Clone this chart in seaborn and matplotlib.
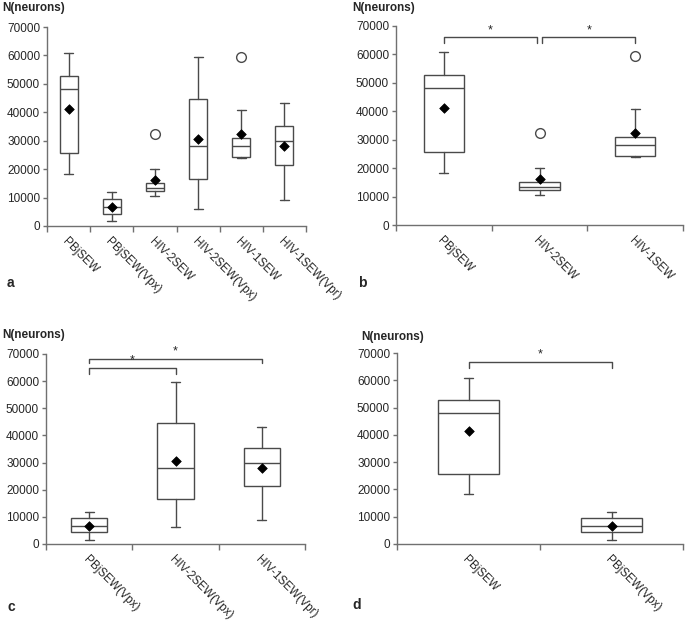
import matplotlib
matplotlib.use("Agg")
import matplotlib.pyplot as plt
import seaborn as sns
import pandas as pd

sns.set_theme(style="white")
plt.rcParams['font.family'] = ['Liberation Sans', 'DejaVu Sans']

# ---- data ----
groups = ["PBjSEW", "PBjSEW(Vpx)", "HIV-2SEW", "HIV-2SEW(Vpx)", "HIV-1SEW", "HIV-1SEW(Vpr)"]
whisker_low = [18300, 1600, 10600, 6100, 24000, 9000]
q1 = [25700, 4300, 12300, 16400, 24300, 21400]
median = [48100, 6700, 13300, 28000, 28000, 30000]
q3 = [52800, 9400, 15300, 44700, 31000, 35200]
whisker_high = [60800, 11900, 20000, 59600, 40900, 43200]
means = [41300, 6700, 16100, 30600, 32400, 28000]
outliers = [[], [], [32300], [], [59500], []]

panel_a = groups
panel_b = ["PBjSEW", "HIV-2SEW", "HIV-1SEW"]
panel_c = ["PBjSEW(Vpx)", "HIV-2SEW(Vpx)", "HIV-1SEW(Vpr)"]
panel_d = ["PBjSEW", "PBjSEW(Vpx)"]

# significance brackets: (start index, end index, bar level, drop level)
sig_b = [(0, 0.97, 66000, 63900), (1.03, 2, 66000, 63900)]
sig_c = [(0, 2, 68300, 66600), (0, 1, 65000, 62800)]
sig_d = [(0, 1, 66800, 64400)]

yticks = [0, 10000, 20000, 30000, 40000, 50000, 60000, 70000]

W, H = 685, 624
fig = plt.figure(figsize=(W / 100, H / 100), dpi=100)

def px_axes(left, right, top, bottom):
    return fig.add_axes([left / W, (H - bottom) / H, (right - left) / W, (bottom - top) / H])

box_col = "#4a4a4a"
axis_col = "#707070"
txt_col = "#262626"
fs = 8.5

def draw_panel(ax, names, sigs, letter, ylab_xy, letter_xy):
    idx = [groups.index(n) for n in names]
    stats = []
    for i in idx:
        stats.append(dict(med=median[i], q1=q1[i], q3=q3[i], whislo=whisker_low[i],
                          whishi=whisker_high[i], fliers=outliers[i], label=groups[i]))
    n = len(names)
    ax_w_px = ax.get_position().width * W
    cat_px = ax_w_px / n
    cap = 9.0 / cat_px
    ax.bxp(stats, positions=list(range(n)), widths=0.42, capwidths=cap, patch_artist=True,
           boxprops=dict(facecolor="white", edgecolor=box_col, linewidth=1.0),
           medianprops=dict(color=box_col, linewidth=1.0),
           whiskerprops=dict(color=box_col, linewidth=1.0),
           capprops=dict(color=box_col, linewidth=1.0),
           flierprops=dict(marker="o", markerfacecolor="white", markeredgecolor=box_col,
                           markersize=7, markeredgewidth=1.0),
           manage_ticks=False)
    df = pd.DataFrame({"x": list(range(n)), "mean": [means[i] for i in idx]})
    sns.scatterplot(data=df, x="x", y="mean", marker="D", color="black", s=24,
                    edgecolor="black", linewidth=0.5, ax=ax, zorder=5, legend=False)
    ax.set_xlim(-0.5, n - 0.5)
    ax.set_ylim(0, 70000)
    ax.set_xlabel("")
    ax.set_ylabel("")
    for s in ["top", "right"]:
        ax.spines[s].set_visible(False)
    for s in ["left", "bottom"]:
        ax.spines[s].set_color(axis_col)
        ax.spines[s].set_linewidth(1.0)
    ax.set_yticks(yticks)
    ax.set_yticklabels([str(v) for v in yticks], fontsize=fs, color=txt_col)
    ax.tick_params(axis="y", which="major", length=3, width=1.0, color=axis_col, pad=2, left=True)
    ax.set_xticks(list(range(n)))
    ax.set_xticklabels(names, fontsize=fs, color=txt_col, rotation=-45, ha="left", va="top",
                       rotation_mode="anchor")
    ax.tick_params(axis="x", which="major", length=0, pad=7, bottom=True)
    ax.set_xticks([i - 0.5 for i in range(n + 1)], minor=True)
    ax.tick_params(axis="x", which="minor", length=4, width=1.0, color=axis_col, bottom=True)
    for x0, x1, yb, yd in sigs:
        ax.plot([x0, x0, x1, x1], [yd, yb, yb, yd], color=box_col, lw=1.0, clip_on=False)
        ax.text((x0 + x1) / 2, yb + 300, "*", ha="center", va="bottom", fontsize=9,
                color=txt_col, clip_on=False)
    fig.text(ylab_xy[0] / W, 1 - ylab_xy[1] / H, "N(neurons)", fontsize=fs, fontweight="bold",
             color=txt_col, ha="left", va="center")
    fig.text(letter_xy[0] / W, 1 - letter_xy[1] / H, letter, fontsize=10, fontweight="bold",
             color=txt_col, ha="left", va="center")

ax_a = px_axes(47, 306, 27, 226)
ax_b = px_axes(396, 683, 26, 225)
ax_c = px_axes(46, 305, 354, 544)
ax_d = px_axes(397, 683, 353, 544)

draw_panel(ax_a, panel_a, [], "a", (2, 8), (7, 283))
draw_panel(ax_b, panel_b, sig_b, "b", (352, 8), (358, 283))
draw_panel(ax_c, panel_c, sig_c, "c", (2, 335), (8, 607))
draw_panel(ax_d, panel_d, sig_d, "d", (361, 337), (352, 605))

fig.savefig("out.png", dpi=100, facecolor="white")
